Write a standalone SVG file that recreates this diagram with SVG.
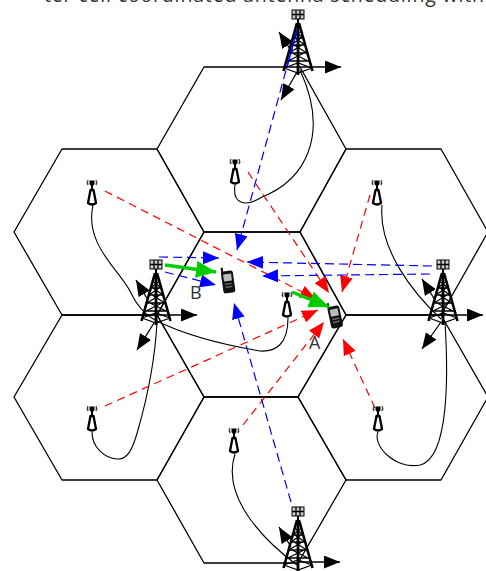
<svg xmlns="http://www.w3.org/2000/svg" width="486" height="571" viewBox="0 0 486 571">
<style>
text{font-family:"Open Sans","Liberation Sans",sans-serif;fill:#333}
.hex{fill:none;stroke:#000;stroke-width:1.3;stroke-linejoin:round}
.link{fill:none;stroke:#000;stroke-width:1.1}
.tx{fill:none;stroke:#000;stroke-width:1.3}
.r{fill:none;stroke:#f00;stroke-width:1.2;stroke-dasharray:8 5.500;marker-end:url(#mr)}
.b{fill:none;stroke:#00f;stroke-width:1.2;stroke-dasharray:9 5;marker-end:url(#mb)}
.g{fill:none;stroke:#0c0;stroke-width:3.500;marker-end:url(#mg)}
</style>
<defs>
<marker id="mk" markerUnits="userSpaceOnUse" markerWidth="17" markerHeight="14" refX="16" refY="6.500" orient="auto"><path d="M0 0L16 6.500L0 13z" fill="#000"/></marker>
<marker id="mr" markerUnits="userSpaceOnUse" markerWidth="17" markerHeight="14" refX="16" refY="6.500" orient="auto"><path d="M0 0L16 6.500L0 13z" fill="#f00"/></marker>
<marker id="mb" markerUnits="userSpaceOnUse" markerWidth="17" markerHeight="14" refX="16" refY="6.500" orient="auto"><path d="M0 0L16 6.500L0 13z" fill="#00f"/></marker>
<marker id="mg" markerUnits="userSpaceOnUse" markerWidth="21" markerHeight="18" refX="20" refY="8.500" orient="auto"><path d="M0 0L20 8.500L0 17z" fill="#0c0"/></marker>
<g id="tower">
<rect x="-6" y="-60" width="12" height="9" fill="#ccc" stroke="#000" stroke-width="1"/>
<path d="M-2 -60V-51M2 -60V-51M-6 -55.500H6" stroke="#000" stroke-width="1.300" fill="none"/>
<path d="M0 -51V-46" stroke="#000" stroke-width="2" fill="none"/>
<path d="M-1 -47L-14.500 1M1 -47L14.500 1" stroke="#000" stroke-width="2.600" fill="none"/>
<path d="M0 -47V5" stroke="#000" stroke-width="2.800" fill="none"/>
<path d="M-14 -2L0 -7L14 -2M-14 -2L0 3L14 -2M-12 -8L6 -17M12 -8L-6 -17M-9 -17L4 -25M9 -17L-4 -25M-7 -25L3 -32M7 -25L-3 -32M-5 -32L2 -38M5 -32L-2 -38M-11 -9L11 -9M-9 -17L9 -17M-7 -25L7 -25M-5 -32L5 -32" stroke="#000" stroke-width="1.300" fill="none"/>
</g>
<g id="ant">
<path d="M-4 -12A5 5 0 0 0 -4 -7M4 -12A5 5 0 0 1 4 -7" stroke="#444" stroke-width="1.400" fill="none"/>
<path d="M-2.500 -11.500H2.500V-8L1 -6V-2H-1V-6L-2.500 -8z" fill="#000"/>
<path d="M-1.500 -2L-4 11Q0 14 4 11L1.500 -2z" stroke="#000" stroke-width="2.300" fill="#fff" stroke-linejoin="round"/>
</g>
<g id="phone">
<path d="M-4.500 -14L-4.500 -9" stroke="#000" stroke-width="2"/>
<rect x="-6" y="-10" width="12" height="22" rx="2.500" fill="#111"/>
<rect x="-4" y="-7" width="8" height="7" fill="#bbb"/>
<path d="M-3.500 3H3.500M-3.500 6H3.500" stroke="#777" stroke-width="1.200"/>
</g>
</defs>
<text x="44" y="2" font-size="19.500" textLength="440">ter cell coordinated antenna scheduling with</text>
<g id="cells">
<path id="cell-top" class="hex" d="M204 67H300L346 149L300 232H204L157 149Z"/>
<path id="cell-center" class="hex" d="M204 232H300L346 315L298 397H204L157 315Z"/>
<path id="cell-ul" class="hex" d="M62 149H157L204 232L157 315H62L14 232Z"/>
<path id="cell-ur" class="hex" d="M346 149H441L488 232L441 315H346L300 232Z"/>
<path id="cell-ll" class="hex" d="M62 315H157L204 397L157 480H62L14 397Z"/>
<path id="cell-lr" class="hex" d="M346 315H441L488 397L441 480H346L298 397Z"/>
<path id="cell-bottom" class="hex" d="M204 397H298L346 480L298 563H204L157 480Z"/>
</g>
<g id="connectors">
<path class="link" d="M235 185C232 205 246 207 262 197C305 180 330 135 300 70"/>
<path class="link" d="M93 205C84 245 120 270 131 293C137 306 146 315 155 320"/>
<path class="link" d="M92 432C92 448 105 458 117 459C128 460 133 448 138 430C148 395 155 360 157 322"/>
<path class="link" d="M235 454C220 500 270 545 297 565"/>
<path class="link" d="M382 205C378 250 415 295 441 319"/>
<path class="link" d="M378 432C372 445 395 470 420 465C450 458 448 370 445 322"/>
<path class="link" d="M288 318C288 345 275 352 260 351C225 345 185 335 157 321"/>
<path class="tx" marker-end="url(#mk)" d="M298 67H341"/>
<path class="tx" marker-end="url(#mk)" d="M292 52L279 32"/>
<path class="tx" marker-end="url(#mk)" d="M297 72L281 100"/>
<path class="tx" marker-end="url(#mk)" d="M156 315H197"/>
<path class="tx" marker-end="url(#mk)" d="M148 300L136 280"/>
<path class="tx" marker-end="url(#mk)" d="M154 323L137 350"/>
<path class="tx" marker-end="url(#mk)" d="M443 315H483"/>
<path class="tx" marker-end="url(#mk)" d="M435 300L422 279"/>
<path class="tx" marker-end="url(#mk)" d="M441 322L422 349"/>
<path class="tx" marker-end="url(#mk)" d="M298 562H340"/>
<path class="tx" marker-end="url(#mk)" d="M291 547L279 527"/>
<path class="r" d="M105 191L316 299"/>
<path class="r" d="M248 172L329 293"/>
<path class="r" d="M370 195L342 292"/>
<path class="r" d="M105 406L318 310"/>
<path class="r" d="M243 425L324 322"/>
<path class="r" d="M375 408L343 339"/>
<path class="b" d="M297 30L237 250"/>
<path class="b" d="M432 266L247 262"/>
<path class="b" d="M430 274L262 276"/>
<path class="b" d="M159 257L219 258"/>
<path class="b" d="M165 272L216 285"/>
<path class="b" d="M291 502L234 303"/>
</g>
<g id="tower-top"><use href="#tower" x="298" y="70"/></g>
<g id="tower-left"><use href="#tower" x="156" y="320"/></g>
<g id="tower-right"><use href="#tower" x="443" y="320"/></g>
<g id="tower-bottom"><use href="#tower" x="298" y="567"/></g>
<path class="b" style="marker-end:none;stroke-dasharray:none;stroke-width:1.500" d="M297 30L287 67"/>
<g id="ant-top"><use href="#ant" x="235" y="171"/></g>
<g id="ant-ul"><use href="#ant" x="92" y="192"/></g>
<g id="ant-ur"><use href="#ant" x="377" y="192"/></g>
<g id="ant-ll"><use href="#ant" x="92" y="418"/></g>
<g id="ant-bottom"><use href="#ant" x="234" y="440"/></g>
<g id="ant-lr"><use href="#ant" x="378" y="418"/></g>
<g id="ant-center"><use href="#ant" x="287" y="304"/></g>
<g id="ue-b"><use href="#phone" transform="translate(228 281) rotate(-8)"/><text x="190" y="299" font-size="18">B</text></g>
<g id="ue-a"><use href="#phone" transform="translate(335 316) rotate(-12)"/><text x="309" y="349" font-size="18">A</text></g>
<g id="assoc">
<path class="g" d="M165 265L216 272"/>
<path class="g" d="M292 292L329 307"/>
</g>
</svg>
